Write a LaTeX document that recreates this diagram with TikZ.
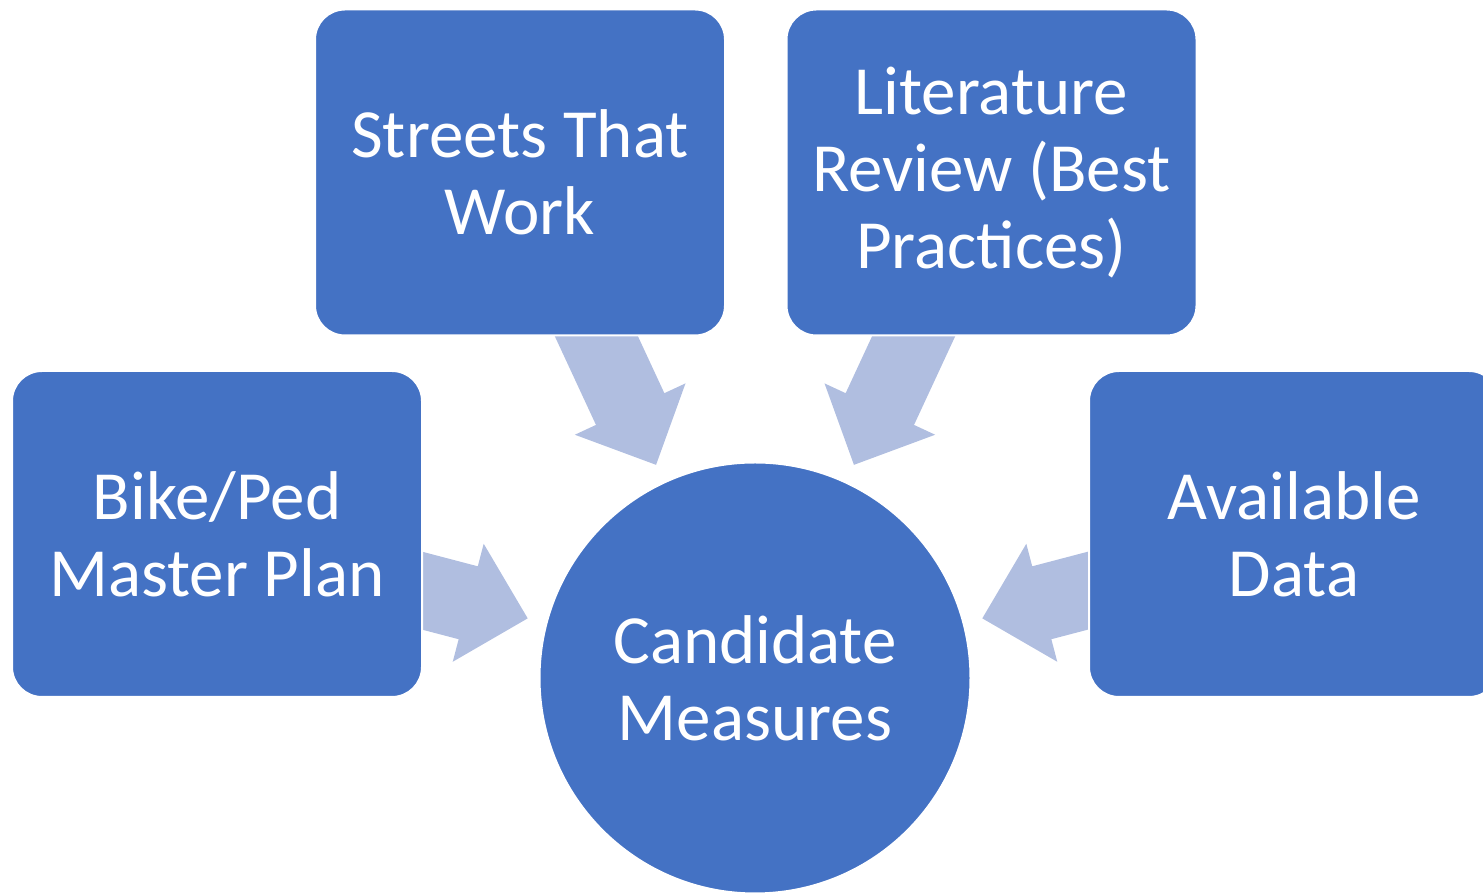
\documentclass[tikz,border=0pt]{standalone}
\usepackage{fontspec}
\setmainfont{Carlito}
\usetikzlibrary{calc}
\definecolor{boxblue}{HTML}{4472C4}
\definecolor{arrowblue}{HTML}{B0BEE0}
\begin{document}
\begin{tikzpicture}[x=1pt,y=1pt,
  box/.style={draw=white, line width=2pt, fill=boxblue, rounded corners=30pt,
    text=white, align=center, font=\fontsize{69}{77}\selectfont,
    minimum width=410pt, minimum height=326pt, inner sep=0pt},
  hub/.style={circle, draw=white, line width=2pt, fill=boxblue, text=white,
    align=center, font=\fontsize{69}{77}\selectfont, minimum size=431pt, inner sep=0pt},
  blockarrow/.style={fill=arrowblue}]
\useasboundingbox (0,0) rectangle (1483,893);
\clip (0,0) rectangle (1483,893);
\coordinate (C) at (755,215);
% arrow tips, 235 from the hub centre
\coordinate (t1) at ($(C)+(165.3:235)$);
\coordinate (t2) at ($(C)+(114.9:235)$);
\coordinate (t3) at ($(C)+(65.1:235)$);
\coordinate (t4) at ($(C)+(14.7:235)$);
\foreach \t/\a in {t1/-14.7, t2/-65.1, t3/-114.9, t4/-165.3}{
  \fill[blockarrow, shift={(\t)}, rotate=\a]
    (0,0) -- (-61.5,61) -- (-61.5,37.7) -- (-200,37.7) -- (-200,-37.7)
    -- (-61.5,-37.7) -- (-61.5,-61) -- cycle;
}
\node[box] (streets) at (520,720.5) {Streets That\\Work};
\node[box] (lit) at (991.5,720.5) {Literature\\Review (Best\\Practices)};
\node[box] (bike) at (217,359) {Bike/Ped\\Master Plan};
\node[box] (data) at (1294,359) {Available\\Data};
\node[hub] (hub) at (C) {Candidate\\Measures};
\end{tikzpicture}
\end{document}
